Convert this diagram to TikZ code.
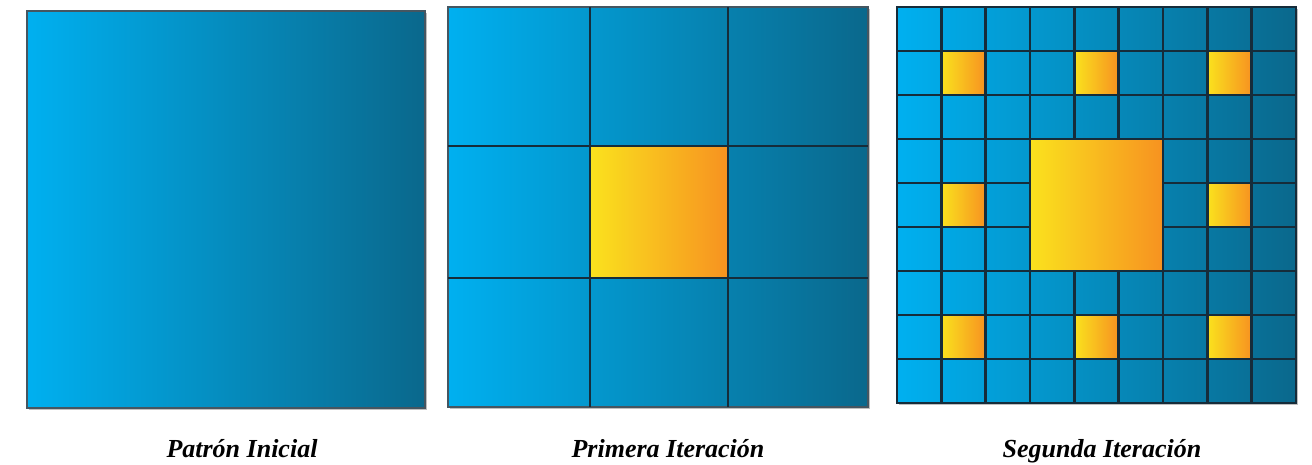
\documentclass[tikz,border=0pt]{standalone}
\usepackage{fontspec}
\setmainfont{Liberation Serif}
\definecolor{blueL}{RGB}{0,176,240}
\definecolor{blueR}{RGB}{10,104,140}
\definecolor{yelL}{RGB}{250,226,30}
\definecolor{yelR}{RGB}{247,146,32}
\definecolor{gridc}{RGB}{22,44,58}
\tikzset{
  shadowbox/.style={fill=black!25},
  panel/.style={left color=blueL, right color=blueR, draw=gridc!80, line width=1.2pt},
  gridline/.style={draw=gridc, line width=2.6pt},
  ylw/.style={left color=yelL, right color=yelR, draw=gridc, line width=2.6pt},
  caption/.style={font=\fontsize{26}{30}\selectfont\bfseries\itshape, anchor=base}
}
\begin{document}
\begin{tikzpicture}[x=1pt,y=-1pt]
\useasboundingbox (0,0) rectangle (1312,464);
% Panel 1
\fill[shadowbox] (29,13) rectangle (427,410);
\path[panel] (27,11) rectangle (425,408);
% Panel 2
\fill[shadowbox] (450,9) rectangle (870,409);
\path[panel] (448,7) rectangle (868,407);
\draw[gridline] (590,7) -- (590,407);
\draw[gridline] (728,7) -- (728,407);
\draw[gridline] (448,146) -- (868,146);
\draw[gridline] (448,278) -- (868,278);
\path[ylw] (590,146) rectangle (728,278);
% Panel 3
\fill[shadowbox] (899,9) rectangle (1298,405);
\path[panel] (897,7) rectangle (1296,403);
\foreach \i in {1,...,8}{
  \draw[gridline] ({897+\i*44.33},7) -- ({897+\i*44.33},403);
  \draw[gridline] (897,{7+\i*44}) -- (1296,{7+\i*44});
}
\foreach \cx/\cy in {1/1,4/1,7/1,1/4,7/4,1/7,4/7,7/7}{
  \path[ylw] ({897+\cx*44.33},{7+\cy*44}) rectangle ({897+(\cx+1)*44.33},{7+(\cy+1)*44});
}
\path[ylw] ({897+3*44.33},{7+3*44}) rectangle ({897+6*44.33},{7+6*44});
\draw[gridc, line width=1.6pt] (897,7) rectangle (1296,403);
% Captions
\node[caption] (c1) at (242,457) {Patrón Inicial};
\node[caption] (c2) at (668,457) {Primera Iteración};
\node[caption] (c3) at (1102,457) {Segunda Iteración};
\end{tikzpicture}
\end{document}
